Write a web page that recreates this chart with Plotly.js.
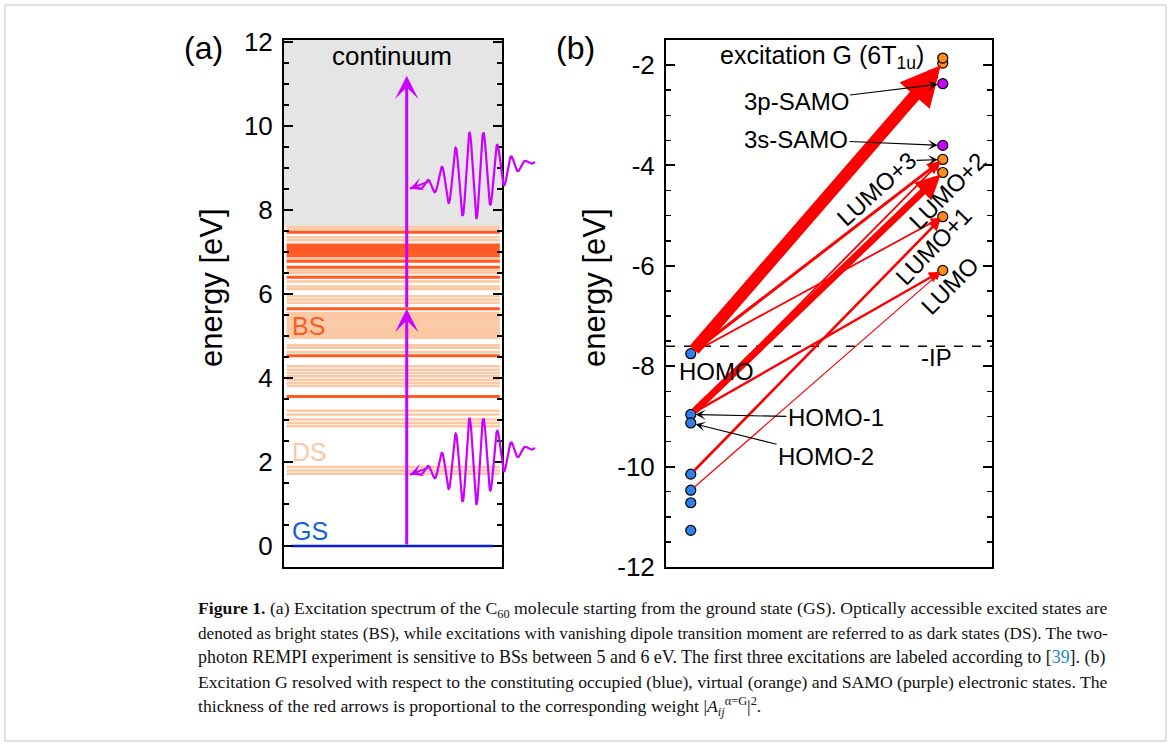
<!DOCTYPE html>
<html><head><meta charset="utf-8">
<script src="https://cdn.plot.ly/plotly-3.0.1.min.js"></script>
<style>html,body{margin:0;padding:0;background:#fff}#chart{width:1171px;height:746px}</style>
</head><body><div id="chart"></div>
<script>
// ================= DATA =================
// Panel (a): excitation energies of C60 [eV]
const groundState = [0];
const brightStates = [3.56, 4.53, 5.65, 6.40, 6.64, 6.78, 6.91, 6.97, 7.04, 7.11, 7.17, 7.47];
const darkStates = [1.72, 1.80, 1.88, 2.85, 2.93, 3.01, 3.13, 3.22, 3.81, 3.88, 3.96, 4.04, 4.12, 4.20, 4.28,
  4.62, 4.72, 4.78, 4.96, 5.00, 5.05, 5.10, 5.15, 5.20, 5.25, 5.30, 5.35, 5.40, 5.45, 5.50, 5.55,
  5.79, 5.87, 5.95, 6.12, 6.18, 6.30, 6.50, 6.56, 6.84, 7.28, 7.35, 7.54, 7.59];
const continuumOnset = 7.6;
const labeledStates = ['C', 'E', 'G'];
const labeledEnergies = [3.56, 4.53, 5.65];
const pumpSteps = [0, 5.65, 11.2];          // two-photon excitation path
const pulseTipEnergies = [1.70, 8.51];       // where the laser pulses arrive
const yTicksA = [0, 2, 4, 6, 8, 10, 12];
const yTickTextA = ['0', '2', '4', '6', '8', '10', '12'];

// Panel (b): orbital energies [eV]
const occEnergies = [-7.75, -8.96, -9.13, -10.15, -10.47, -10.72, -11.27];   // HOMO, HOMO-1, HOMO-2, ...
const virtEnergies = [-6.09, -5.02, -4.14, -3.88, -1.96, -1.86];             // LUMO, LUMO+1, LUMO+2, LUMO+3, ...
const samoEnergies = [-3.60, -2.37];                                          // 3s-SAMO, 3p-SAMO
const ionization = -7.6;
// transitions (occupied index -> virtual index) and weights |A|^2
const transFrom = [4, 0, 1, 0, 1, 3, 0, 1];
const transTo   = [0, 1, 3, 3, 0, 1, 4, 2];
const transWeight = [0.04, 0.06, 0.06, 0.10, 0.08, 0.085, 0.40, 0.23];
const yTicksB = [-12, -10, -8, -6, -4, -2];
const yTickTextB = ['-12', '-10', '-8', '-6', '-4', '-2'];

// ================= STYLE / GEOMETRY =================
const W = 1171, H = 746;
const FONT = 'Liberation Sans, Arial, sans-serif';
const RED = '#ff5a24', PEACH = '#fcc8a3', MAG = '#cc00ff';
const xOcc = 0.076, xVirt = 0.849;
const domY = [1 - 567 / H, 1 - 40 / H];

function levelTrace(energies, color, width, x0, x1) {
  const xs = [], ys = [];
  energies.forEach(e => { xs.push(x0, x1, null); ys.push(e, e, null); });
  return {type: 'scatter', mode: 'lines', x: xs, y: ys, xaxis: 'x', yaxis: 'y',
    line: {color: color, width: width}, hoverinfo: 'skip', showlegend: false};
}

// decorative laser-pulse glyph (Gaussian wave packet), drawn on an overlay x-axis (x3)
function pulseTrace(eTip) {
  const xs = [], ys = [];
  const pxTip = 410, pxEnd = 535, c = 474, s = 22, per = 14;
  for (let i = 0; i <= 400; i++) {
    const px = pxTip + (pxEnd - pxTip) * i / 400;
    const env = Math.exp(-0.5 * Math.pow((px - c) / s, 2));
    const base = eTip + (px - pxTip) * 0.00514;
    xs.push((px - 284) / 218);
    ys.push(base + 1.05 * env * Math.sin(2 * Math.PI * (px - pxTip) / per));
  }
  return {type: 'scatter', mode: 'lines', x: xs, y: ys, xaxis: 'x3', yaxis: 'y',
    line: {color: MAG, width: 2.2}, hoverinfo: 'skip', showlegend: false};
}

const traces = [
  levelTrace(darkStates, PEACH, 2.5, 0.012, 0.99),
  levelTrace(brightStates, RED, 3, 0.012, 0.99),
  levelTrace(groundState, '#0a1ee0', 2.5, 0.035, 0.96),
  pulseTrace(pulseTipEnergies[0]),
  pulseTrace(pulseTipEnergies[1]),
  {type: 'scatter', mode: 'lines', x: [0, 1], y: [ionization, ionization], xaxis: 'x2', yaxis: 'y2',
    line: {color: 'black', width: 1.5, dash: 'dash'}, hoverinfo: 'skip', showlegend: false},
  {type: 'scatter', mode: 'markers', x: occEnergies.map(() => xOcc), y: occEnergies, xaxis: 'x2', yaxis: 'y2',
    marker: {color: '#2f80ea', size: 10, line: {color: 'black', width: 1.2}}, cliponaxis: false, showlegend: false},
  {type: 'scatter', mode: 'markers', x: virtEnergies.map(() => xVirt), y: virtEnergies, xaxis: 'x2', yaxis: 'y2',
    marker: {color: '#ff8c1a', size: 10, line: {color: 'black', width: 1.2}}, cliponaxis: false, showlegend: false},
  {type: 'scatter', mode: 'markers', x: samoEnergies.map(() => xVirt), y: samoEnergies, xaxis: 'x2', yaxis: 'y2',
    marker: {color: MAG, size: 10, line: {color: 'black', width: 1.2}}, cliponaxis: false, showlegend: false}
];

const ann = [];
function txt(xref, yref, x, y, text, size, color, extra) {
  ann.push(Object.assign({xref: xref, yref: yref, x: x, y: y, text: text, showarrow: false,
    xanchor: 'center', yanchor: 'middle',
    font: {family: FONT, size: size, color: color || 'black'}}, extra || {}));
}

// ---- panel labels and axis titles
txt('paper', 'paper', 203 / W, 1 - 48 / H, '(a)', 32);
txt('paper', 'paper', 575 / W, 1 - 48 / H, '(b)', 32);
txt('paper', 'paper', 211 / W, 1 - 288 / H, 'energy [eV]', 31, 'black', {textangle: -90});
txt('paper', 'paper', 594 / W, 1 - 288 / H, 'energy [eV]', 31, 'black', {textangle: -90});

// ---- panel (a) annotations
txt('x', 'y', 0.495, 11.66, 'continuum', 26);
txt('x', 'y', 0.028, 5.23, 'BS', 25, RED, {xanchor: 'left'});
txt('x', 'y', 0.028, 2.23, 'DS', 25, PEACH, {xanchor: 'left'});
txt('x', 'y', 0.028, 0.35, 'GS', 25, '#1460dc', {xanchor: 'left'});
labeledStates.forEach((l, i) => txt('x', 'y', 1.03, labeledEnergies[i], l, 25, RED, {xanchor: 'left'}));
// two-photon pump arrows
for (let i = 0; i < pumpSteps.length - 1; i++) {
  ann.push({xref: 'x', yref: 'y', axref: 'x', ayref: 'y', x: 0.563, y: pumpSteps[i + 1], ax: 0.563, ay: pumpSteps[i],
    text: '', showarrow: true, arrowhead: 3, arrowsize: 1.3, arrowwidth: 3, arrowcolor: MAG});
}
// pulse arrow heads
pulseTipEnergies.forEach(e => {
  ann.push({xref: 'x3', yref: 'y', axref: 'x3', ayref: 'y', x: (410 - 284) / 218, y: e, ax: (430 - 284) / 218, ay: e + 0.18,
    text: '', showarrow: true, arrowhead: 3, arrowsize: 1.1, arrowwidth: 2, arrowcolor: MAG});
});

// ---- panel (b) red transition arrows (thin first)
const order = transWeight.map((w, i) => i).sort((a, b) => transWeight[a] - transWeight[b]);
order.forEach(k => {
  const w = transWeight[k] * 30;
  const headLen = 4 + 3 * w;
  ann.push({xref: 'x2', yref: 'y2', axref: 'x2', ayref: 'y2',
    x: xVirt, y: virtEnergies[transTo[k]], ax: xOcc, ay: occEnergies[transFrom[k]],
    text: '', showarrow: true, arrowhead: 2, arrowwidth: w, arrowsize: headLen / (5 * w),
    arrowcolor: '#ff0000', standoff: 3, startstandoff: 3});
});

// ---- panel (b) labels
txt('x2', 'y2', 0.479, -1.83, 'excitation G (6T<sub>1u</sub>)', 25);
function pointer(text, tx, ty, px, py) {
  ann.push({xref: 'x2', yref: 'y2', axref: 'x2', ayref: 'y2', x: px, y: py, ax: tx, ay: ty,
    text: text, showarrow: true, arrowhead: 3, arrowsize: 1.5, arrowwidth: 1.1, arrowcolor: 'black', standoff: 5,
    font: {family: FONT, size: 24, color: 'black'}});
}
pointer('3p-SAMO', 0.399, -2.727, xVirt, samoEnergies[1]);
pointer('3s-SAMO', 0.399, -3.48, xVirt, samoEnergies[0]);
pointer('HOMO-1', 0.521, -9.02, xOcc, occEnergies[1]);
pointer('HOMO-2', 0.491, -9.80, xOcc, occEnergies[2]);
pointer('', 0.764, virtEnergies[3] - 0.02, xVirt, virtEnergies[3]);
txt('x2', 'y2', 0.156, -8.11, 'HOMO', 24);
txt('x2', 'y2', 0.831, -7.83, '-IP', 24);
txt('x2', 'y2', 0.647, -4.46, 'LUMO+3', 24, 'black', {textangle: -42});
txt('x2', 'y2', 0.865, -4.50, 'LUMO+2', 24, 'black', {textangle: -45});
txt('x2', 'y2', 0.822, -5.595, 'LUMO+1', 24, 'black', {textangle: -46});
txt('x2', 'y2', 0.871, -6.39, 'LUMO', 24, 'black', {textangle: -45});

// ---- caption
const SERIF = 'Liberation Serif, Times New Roman, serif';
const captionLines = [
  '<b>Figure 1.</b> (a) Excitation spectrum of the C<sub>60</sub> molecule starting from the ground state (GS). Optically accessible excited states are',
  'denoted as bright states (BS), while excitations with vanishing dipole transition moment are referred to as dark states (DS). The two-',
  'photon REMPI experiment is sensitive to BSs between 5 and 6 eV. The first three excitations are labeled according to [<span style="color:#1a86c8">39</span>]. (b)',
  'Excitation G resolved with respect to the constituting occupied (blue), virtual (orange) and SAMO (purple) electronic states. The',
  'thickness of the red arrows is proportional to the corresponding weight |<i>A</i><sub><i>ij</i></sub><sup>α=G</sup>|<sup>2</sup>.'
];
const captionY = [609, 633, 657, 682, 706];
const captionSize = [17.7, 17.15, 17.95, 17.65, 17.7];
captionLines.forEach((l, i) => txt('paper', 'paper', 196 / W, 1 - captionY[i] / H, l, captionSize[i], '#111',
  {xanchor: 'left', yanchor: 'middle', font: {family: SERIF, size: captionSize[i], color: '#111'}}));

const axLine = {showline: true, linewidth: 2, linecolor: 'black', showgrid: false, zeroline: false};
const yCommon = Object.assign({}, axLine, {
  domain: domY, ticks: 'inside', ticklen: 9, tickwidth: 2, tickcolor: 'black', mirror: 'ticks',
  tickmode: 'array', tickfont: {family: FONT, size: 26, color: 'black'}, ticklabelstandoff: 4,
  minor: {ticks: 'inside', ticklen: 5, tickwidth: 1.5, tickcolor: 'black', tickmode: 'linear', tick0: 0, dtick: 0.5, showgrid: false}
});

const layout = {
  width: W, height: H, margin: {l: 0, r: 0, t: 0, b: 0},
  paper_bgcolor: 'white', plot_bgcolor: 'rgba(0,0,0,0)', showlegend: false,
  xaxis: Object.assign({}, axLine, {domain: [284 / W, 502 / W], range: [0, 1], mirror: true, ticks: '', showticklabels: false, anchor: 'y', fixedrange: true}),
  xaxis2: Object.assign({}, axLine, {domain: [666 / W, 992 / W], range: [0, 1], mirror: true, ticks: '', showticklabels: false, anchor: 'y2', fixedrange: true}),
  xaxis3: {domain: [284 / W, 545 / W], range: [0, 261 / 218], anchor: 'y', visible: false, fixedrange: true},
  yaxis: Object.assign({}, yCommon, {range: [-0.5, 12.05], tickvals: yTicksA, ticktext: yTickTextA, anchor: 'x'}),
  yaxis2: Object.assign({}, yCommon, {range: [-12, -1.5], tickvals: yTicksB, ticktext: yTickTextB, anchor: 'x2'}),
  shapes: [
    {type: 'rect', xref: 'x', yref: 'y', x0: 0, x1: 1, y0: continuumOnset, y1: 12.05, fillcolor: '#e5e5e5', line: {width: 0}, layer: 'below'},
    {type: 'rect', xref: 'paper', yref: 'paper', x0: 5 / W, x1: 1166 / W, y0: 1 - 741 / H, y1: 1 - 5 / H, line: {color: '#c4c4c4', width: 1}, fillcolor: 'rgba(0,0,0,0)'}
  ],
  annotations: ann
};

Plotly.newPlot('chart', traces, layout, {staticPlot: true, displayModeBar: false});
</script>
</body></html>
